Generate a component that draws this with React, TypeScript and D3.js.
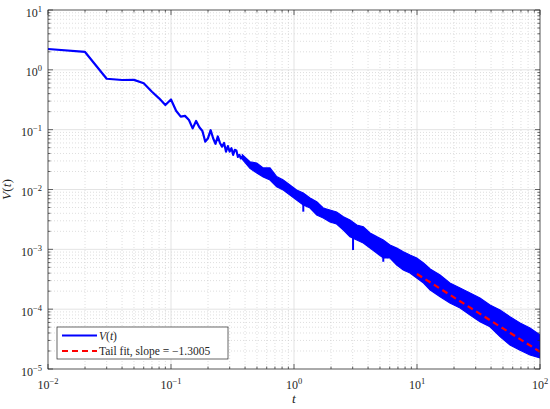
import React from "react";
import * as d3 from "d3";

// early samples, t = 0.01 ... 0.38
const headT = [0.01, 0.02, 0.03, 0.04, 0.05, 0.06, 0.07, 0.08, 0.09, 0.10,
  0.11, 0.12, 0.13, 0.14, 0.15, 0.16, 0.17, 0.18, 0.19, 0.20,
  0.21, 0.22, 0.23, 0.24, 0.25, 0.26, 0.27, 0.28, 0.29, 0.30,
  0.31, 0.32, 0.33, 0.34, 0.35, 0.36, 0.37, 0.38];
const headV = [2.23, 1.99, 0.71, 0.676, 0.68, 0.595, 0.43, 0.334, 0.258, 0.32,
  0.207, 0.165, 0.17, 0.145, 0.105, 0.14, 0.11, 0.095, 0.063, 0.072,
  0.098, 0.072, 0.058, 0.077, 0.06, 0.052, 0.06, 0.043, 0.053, 0.043,
  0.049, 0.038, 0.046, 0.045, 0.035, 0.038, 0.033, 0.036];

// dense noisy part: upper / lower envelope
const bandT = [0.38, 0.438, 0.498, 0.562, 0.638, 0.723, 0.818, 0.927, 1.05, 1.19,
  1.35, 1.53, 1.73, 1.96, 2.22, 2.52, 2.85, 3.24, 3.66, 4.15,
  4.70, 5.32, 6.03, 6.84, 7.74, 8.77, 9.95, 11.3, 12.8, 15.4,
  18.5, 22.4, 27.0, 32.5, 39.2, 47.3, 57.0, 68.8, 82.9, 100];
const bandHi = [0.038, 0.0291, 0.0277, 0.0229, 0.0229, 0.0164, 0.0144, 0.0119, 0.0098, 0.00873,
  0.00721, 0.00625, 0.0049, 0.00454, 0.00421, 0.00351, 0.00309, 0.00255, 0.00239, 0.00188,
  0.00163, 0.00143, 0.00118, 0.00105, 0.000912, 0.000803, 0.000716, 0.00059, 0.000469, 0.000372,
  0.000273, 0.000226, 0.000186, 0.000154, 0.000117, 0.0000968, 0.0000748, 0.0000586, 0.0000484, 0.000037];
const bandLo = [0.032, 0.0226, 0.0189, 0.0162, 0.0144, 0.0111, 0.0098, 0.0081, 0.00667, 0.0055,
  0.0049, 0.00375, 0.00334, 0.00286, 0.00265, 0.0021, 0.00163, 0.00143, 0.00128, 0.00105,
  0.000867, 0.000716, 0.000716, 0.000547, 0.000451, 0.000402, 0.000332, 0.000273, 0.000209, 0.000161,
  0.000127, 0.000105, 0.0000798, 0.0000617, 0.0000509, 0.0000347, 0.0000252, 0.0000207, 0.0000171, 0.0000153];

// isolated downward spikes
const spikeT = [1.19, 3.02, 5.32];
const spikeFrom = [0.0056, 0.0016, 0.00075];
const spikeTo = [0.00426, 0.000975, 0.00062];

// tail fit
const fitT = [10, 100];
const fitV = [3.87e-4, 1.94e-5];
const fitSlope = "\u22121.3005";

const xExp = [-2, -1, 0, 1, 2];
const yExp = [-5, -4, -3, -2, -1, 0, 1];

const W = 550, H = 409;
const margin = {top: 10, right: 10, bottom: 40, left: 48};
const FONT = "'Liberation Serif', 'Times New Roman', 'DejaVu Serif', serif";
const AX = "#262626";

const exp = (e: number) => (e < 0 ? "\u2212" + Math.abs(e) : String(e));

export default function App() {
  const x = d3.scaleLog().domain([1e-2, 1e2]).range([margin.left, W - margin.right]);
  const y = d3.scaleLog().domain([1e-5, 1e1]).range([H - margin.bottom, margin.top]);
  const [x0, x1] = x.range();
  const [y1, y0] = y.range();

  const minorOf = (exps: number[]) => {
    const out: number[] = [];
    exps.slice(0, -1).forEach(e => {
      for (let k = 2; k <= 9; k++) out.push(k * Math.pow(10, e));
    });
    return out;
  };
  const xMajor = xExp.map(e => Math.pow(10, e));
  const yMajor = yExp.map(e => Math.pow(10, e));
  const xMinor = minorOf(xExp);
  const yMinor = minorOf(yExp);

  const head = headT.map((t, i) => [t, headV[i]] as [number, number]);
  const band = bandT.map((t, i) => ({t, hi: bandHi[i], lo: bandLo[i]}));
  const line = d3.line<[number, number]>().x(d => x(d[0])).y(d => y(d[1]));
  const area = d3.area<{t: number, hi: number, lo: number}>()
    .x(d => x(d.t)).y0(d => y(d.lo)).y1(d => y(d.hi));
  const fit = fitT.map((t, i) => [t, fitV[i]] as [number, number]);

  const blue = "#0000ff";
  const red = "#ff0000";
  const txt = {fontFamily: FONT};

  return (
    <svg width={W} height={H} style={{position: "absolute", left: 0, top: 0, background: "#fff", fontFamily: FONT}}>
      <defs>
        <clipPath id="plot">
          <rect x={x0} y={y0} width={x1 - x0} height={y1 - y0} />
        </clipPath>
      </defs>
      <rect x={0} y={0} width={W} height={H} fill="#fff" />

      {/* minor grid */}
      <g stroke="#c8c8c8" strokeWidth={0.6} strokeDasharray="1,2">
        {xMinor.map((v, i) => <line key={"xm" + i} x1={x(v)} x2={x(v)} y1={y0} y2={y1} />)}
        {yMinor.map((v, i) => <line key={"ym" + i} x1={x0} x2={x1} y1={y(v)} y2={y(v)} />)}
      </g>
      {/* major grid */}
      <g stroke="#dcdcdc" strokeWidth={0.8}>
        {xMajor.map((v, i) => <line key={"xM" + i} x1={x(v)} x2={x(v)} y1={y0} y2={y1} />)}
        {yMajor.map((v, i) => <line key={"yM" + i} x1={x0} x2={x1} y1={y(v)} y2={y(v)} />)}
      </g>

      <g clipPath="url(#plot)">
        <path d={area(band) || ""} fill={blue} stroke={blue} strokeWidth={1.2} strokeLinejoin="miter" />
        <path d={line(head) || ""} fill="none" stroke={blue} strokeWidth={2.2} strokeLinejoin="round" />
        {spikeT.map((t, i) => (
          <line key={"sp" + i} x1={x(t)} x2={x(t)} y1={y(spikeFrom[i])} y2={y(spikeTo[i])}
            stroke={blue} strokeWidth={2} />
        ))}
        <path d={line(fit) || ""} fill="none" stroke={red} strokeWidth={2.2} strokeDasharray="6,4" />
      </g>

      {/* axes box and ticks */}
      <g stroke={AX} strokeWidth={0.7} fill="none">
        <rect x={x0} y={y0} width={x1 - x0} height={y1 - y0} />
        {xMajor.map((v, i) => (
          <g key={"xt" + i}>
            <line x1={x(v)} x2={x(v)} y1={y1} y2={y1 - 5} />
            <line x1={x(v)} x2={x(v)} y1={y0} y2={y0 + 5} />
          </g>
        ))}
        {xMinor.map((v, i) => (
          <g key={"xmt" + i}>
            <line x1={x(v)} x2={x(v)} y1={y1} y2={y1 - 2.5} />
            <line x1={x(v)} x2={x(v)} y1={y0} y2={y0 + 2.5} />
          </g>
        ))}
        {yMajor.map((v, i) => (
          <g key={"yt" + i}>
            <line x1={x0} x2={x0 + 5} y1={y(v)} y2={y(v)} />
            <line x1={x1} x2={x1 - 5} y1={y(v)} y2={y(v)} />
          </g>
        ))}
        {yMinor.map((v, i) => (
          <g key={"ymt" + i}>
            <line x1={x0} x2={x0 + 2.5} y1={y(v)} y2={y(v)} />
            <line x1={x1} x2={x1 - 2.5} y1={y(v)} y2={y(v)} />
          </g>
        ))}
      </g>

      {/* tick labels */}
      <g fill={AX} fontSize={12}>
        {xExp.map(e => (
          <text key={"xl" + e} style={txt} x={x(Math.pow(10, e))} y={y1 + 20} textAnchor="middle">
            10<tspan fontSize={8.5} dy={-5}>{exp(e)}</tspan>
          </text>
        ))}
        {yExp.map(e => (
          <text key={"yl" + e} style={txt} x={x0 - 6} y={y(Math.pow(10, e)) + 6.5} textAnchor="end">
            10<tspan fontSize={8.5} dy={-5}>{exp(e)}</tspan>
          </text>
        ))}
      </g>

      {/* axis labels */}
      <text style={txt} x={(x0 + x1) / 2} y={H - 6} textAnchor="middle" fontSize={13.5} fontStyle="italic" fill={AX}>t</text>
      <text style={txt} transform={`translate(11,${(y0 + y1) / 2}) rotate(-90)`} textAnchor="middle" fontSize={13.5} fill={AX}>
        <tspan fontStyle="italic">V</tspan>(<tspan fontStyle="italic">t</tspan>)
      </text>

      {/* legend */}
      <g>
        <rect x={57} y={327} width={171} height={32} fill="#fff" stroke={AX} strokeWidth={0.7} />
        <line x1={62} x2={97} y1={335.5} y2={335.5} stroke={blue} strokeWidth={2.2} />
        <line x1={62} x2={97} y1={351} y2={351} stroke={red} strokeWidth={2.2} strokeDasharray="6,4" />
        <text style={txt} x={99} y={339.5} fontSize={11.5} fill={AX}>
          <tspan fontStyle="italic">V</tspan>(<tspan fontStyle="italic">t</tspan>)
        </text>
        <text style={txt} x={99} y={355} fontSize={11.5} fill={AX}>
          Tail fit, slope = {fitSlope}
        </text>
      </g>
    </svg>
  );
}
